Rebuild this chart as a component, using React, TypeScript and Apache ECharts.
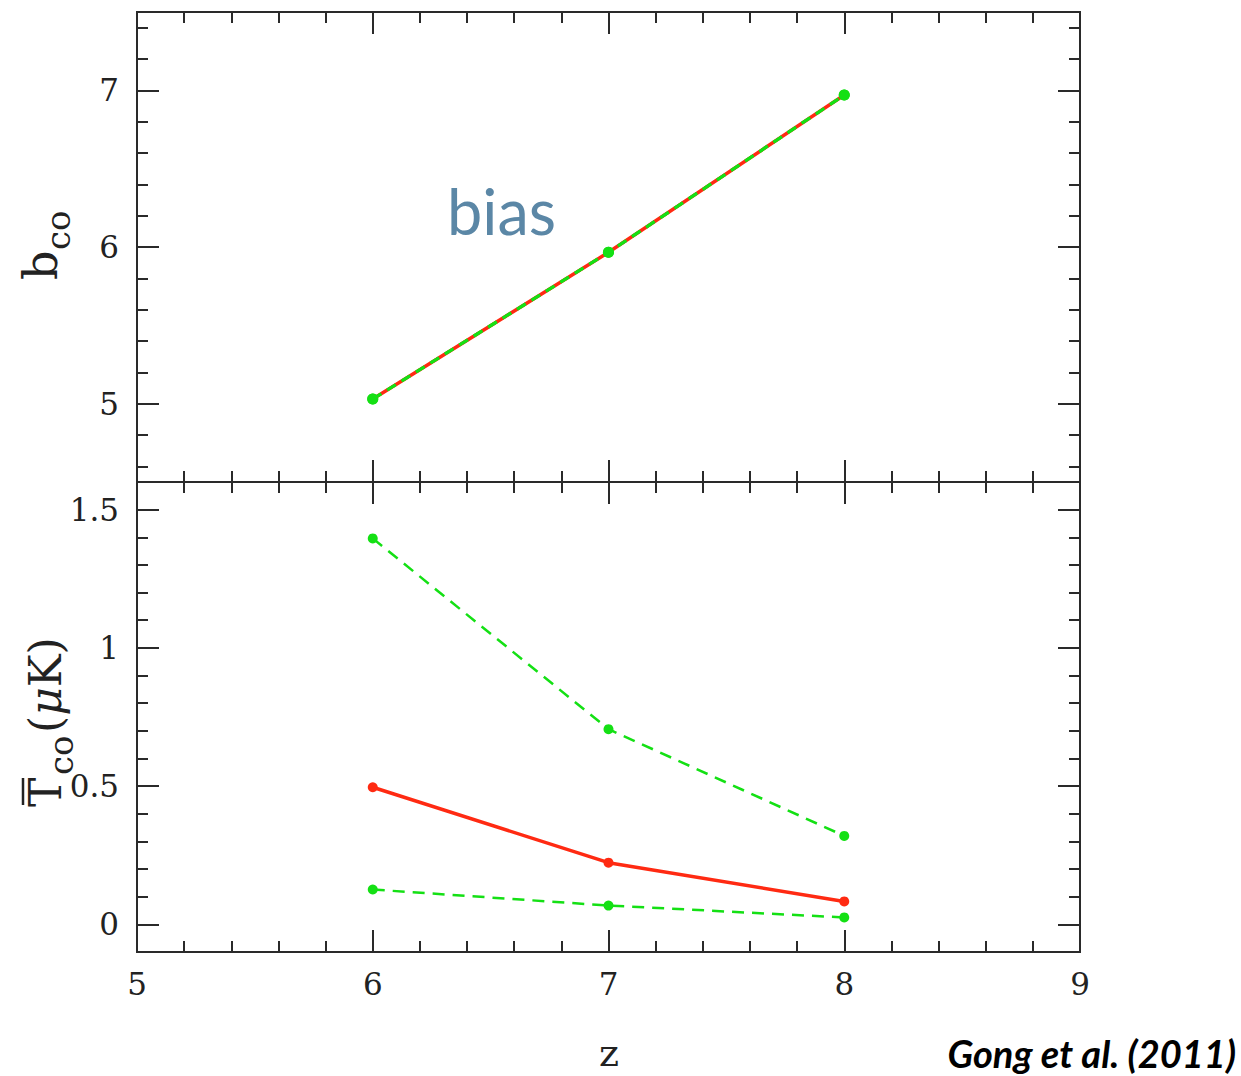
import React, { useEffect, useRef } from "react";
import * as echarts from "echarts";

// ---- data ----
const zValues = [6, 7, 8];
const biasMean = [5.03, 5.966, 6.97];
const biasUpper = [5.03, 5.966, 6.97];
const biasLower = [5.03, 5.966, 6.97];
const tcoMean = [0.496, 0.223, 0.083];
const tcoUpper = [1.396, 0.706, 0.32];
const tcoLower = [0.126, 0.068, 0.025];

// ---- axes / ticks ----
const xMin = 5;
const xMax = 9;
const biasMin = 4.5;
const biasMax = 7.5;
const tcoMin = -0.1;
const tcoMax = 1.6;
const biasMajorTicks = [5, 6, 7];
const biasMinorTicks = [4.6, 4.8, 5.2, 5.4, 5.6, 5.8, 6.2, 6.4, 6.6, 6.8, 7.2, 7.4];
const tcoMajorTicks = [0, 0.5, 1, 1.5];
const tcoMinorTicks = [0.1, 0.2, 0.3, 0.4, 0.6, 0.7, 0.8, 0.9, 1.1, 1.2, 1.3, 1.4];

const RED = "#ff2a12";
const GREEN = "#14e014";
const AXIS = "#2a2a2a";
const SERIF = "'DejaVu Serif', serif";

const zip = (xs: number[], ys: number[]) => xs.map((x, i) => [x, ys[i]]);

export default function App() {
  const ref = useRef<HTMLDivElement>(null);

  useEffect(() => {
    if (!ref.current) return;
    const chart = echarts.init(ref.current, undefined, { renderer: "svg" });

    const axisLine = { show: true, onZero: false, lineStyle: { color: AXIS, width: 2 } };
    const labelStyle = { fontFamily: SERIF, fontSize: 31, color: "#222" };

    const xAxisBase = (gridIndex: number, position: string, showLabel: boolean) => ({
      type: "value",
      gridIndex,
      position,
      min: xMin,
      max: xMax,
      interval: 1,
      axisLine,
      axisTick: { show: true, inside: true, length: 22, lineStyle: { color: AXIS, width: 2 } },
      minorTick: { show: true, splitNumber: 5, length: 11, lineStyle: { color: AXIS, width: 2 } },
      axisLabel: { show: showLabel, margin: 16, ...labelStyle },
      splitLine: { show: false },
      minorSplitLine: { show: false },
    });

    const yAxisBase = (
      gridIndex: number,
      position: string,
      min: number,
      max: number,
      ticks: number[],
      tickLen: number,
      showLabel: boolean
    ) => ({
      type: "value",
      gridIndex,
      position,
      min,
      max,
      axisLine,
      axisTick: {
        show: true,
        inside: true,
        length: tickLen,
        customValues: ticks,
        lineStyle: { color: AXIS, width: 2 },
      },
      axisLabel: {
        show: showLabel,
        customValues: ticks,
        margin: 18,
        formatter: (v: number) => String(v),
        ...labelStyle,
      },
      splitLine: { show: false },
    });

    const option: any = {
      animation: false,
      backgroundColor: "#ffffff",
      grid: [
        { left: 137, top: 12, width: 943, height: 470 },
        { left: 137, top: 482, width: 943, height: 470 },
      ],
      xAxis: [
        xAxisBase(0, "bottom", false),
        xAxisBase(0, "top", false),
        xAxisBase(1, "bottom", true),
        xAxisBase(1, "top", false),
      ],
      yAxis: [
        yAxisBase(0, "left", biasMin, biasMax, biasMajorTicks, 22, true),
        yAxisBase(0, "left", biasMin, biasMax, biasMinorTicks, 11, false),
        yAxisBase(0, "right", biasMin, biasMax, biasMajorTicks, 22, false),
        yAxisBase(0, "right", biasMin, biasMax, biasMinorTicks, 11, false),
        yAxisBase(1, "left", tcoMin, tcoMax, tcoMajorTicks, 22, true),
        yAxisBase(1, "left", tcoMin, tcoMax, tcoMinorTicks, 11, false),
        yAxisBase(1, "right", tcoMin, tcoMax, tcoMajorTicks, 22, false),
        yAxisBase(1, "right", tcoMin, tcoMax, tcoMinorTicks, 11, false),
      ],
      series: [
        {
          type: "line",
          name: "bias mean",
          xAxisIndex: 0,
          yAxisIndex: 0,
          data: zip(zValues, biasMean),
          symbol: "circle",
          symbolSize: 10,
          itemStyle: { color: RED },
          lineStyle: { color: RED, width: 3.5 },
          z: 2,
        },
        {
          type: "line",
          name: "bias upper",
          xAxisIndex: 0,
          yAxisIndex: 0,
          data: zip(zValues, biasUpper),
          symbol: "circle",
          symbolSize: 11,
          itemStyle: { color: GREEN },
          lineStyle: { color: GREEN, width: 3, type: [10, 7] },
          z: 3,
        },
        {
          type: "line",
          name: "bias lower",
          xAxisIndex: 0,
          yAxisIndex: 0,
          data: zip(zValues, biasLower),
          symbol: "circle",
          symbolSize: 11,
          itemStyle: { color: GREEN },
          lineStyle: { color: GREEN, width: 3, type: [10, 7] },
          z: 3,
        },
        {
          type: "line",
          name: "T mean",
          xAxisIndex: 2,
          yAxisIndex: 4,
          data: zip(zValues, tcoMean),
          symbol: "circle",
          symbolSize: 10,
          itemStyle: { color: RED },
          lineStyle: { color: RED, width: 3.5 },
          z: 2,
        },
        {
          type: "line",
          name: "T upper",
          xAxisIndex: 2,
          yAxisIndex: 4,
          data: zip(zValues, tcoUpper),
          symbol: "circle",
          symbolSize: 10,
          itemStyle: { color: GREEN },
          lineStyle: { color: GREEN, width: 2.5, type: [12, 8] },
          z: 3,
        },
        {
          type: "line",
          name: "T lower",
          xAxisIndex: 2,
          yAxisIndex: 4,
          data: zip(zValues, tcoLower),
          symbol: "circle",
          symbolSize: 10,
          itemStyle: { color: GREEN },
          lineStyle: { color: GREEN, width: 2.5, type: [12, 8] },
          z: 3,
        },
      ],
      graphic: [
        {
          type: "text",
          x: 447,
          y: 210,
          style: {
            text: "bias",
            fontFamily: "Lato, 'Open Sans', sans-serif",
            fontSize: 63,
            fill: "#5b87a6",
            align: "left",
            verticalAlign: "middle",
          },
        },
        {
          type: "text",
          x: 1236,
          y: 1053,
          style: {
            text: "Gong et al. (2011)",
            fontFamily: "Lato, 'Open Sans', sans-serif",
            fontSize: 38,
            fontWeight: "bold",
            fontStyle: "italic",
            fill: "#000",
            align: "right",
            verticalAlign: "middle",
          },
        },
        {
          type: "text",
          x: 609,
          y: 1053,
          style: {
            text: "z",
            fontFamily: SERIF,
            fontSize: 38,
            fill: "#222",
            align: "center",
            verticalAlign: "middle",
          },
        },
        {
          type: "group",
          x: 45,
          y: 280,
          rotation: Math.PI / 2,
          children: [
            {
              type: "text",
              x: 0,
              y: -4,
              style: { text: "b", fontFamily: SERIF, fontSize: 46, fill: "#222", align: "left", verticalAlign: "middle" },
            },
            {
              type: "text",
              x: 30,
              y: 13,
              style: { text: "co", fontFamily: SERIF, fontSize: 34, fill: "#222", align: "left", verticalAlign: "middle" },
            },
          ],
        },
        {
          type: "group",
          x: 45,
          y: 807,
          rotation: Math.PI / 2,
          children: [
            {
              type: "text",
              x: 0,
              y: 0,
              style: { text: "T", fontFamily: SERIF, fontSize: 44, fill: "#222", align: "left", verticalAlign: "middle" },
            },
            {
              type: "line",
              shape: { x1: 2, y1: -22, x2: 29, y2: -22 },
              style: { stroke: "#222", lineWidth: 2.5 },
            },
            {
              type: "text",
              x: 32,
              y: 16,
              style: { text: "co", fontFamily: SERIF, fontSize: 34, fill: "#222", align: "left", verticalAlign: "middle" },
            },
            {
              type: "text",
              x: 74,
              y: 0,
              style: {
                text: "({i|μ}K)",
                fontFamily: SERIF,
                fontSize: 44,
                fill: "#222",
                align: "left",
                verticalAlign: "middle",
                rich: {
                  i: { fontFamily: SERIF, fontSize: 44, fontStyle: "italic", fill: "#222" },
                },
              },
            },
          ],
        },
      ],
    };

    chart.setOption(option);
    return () => chart.dispose();
  }, []);

  return (
    <div
      ref={ref}
      style={{ position: "fixed", left: 0, top: 0, width: 1241, height: 1076, background: "#fff" }}
    />
  );
}
